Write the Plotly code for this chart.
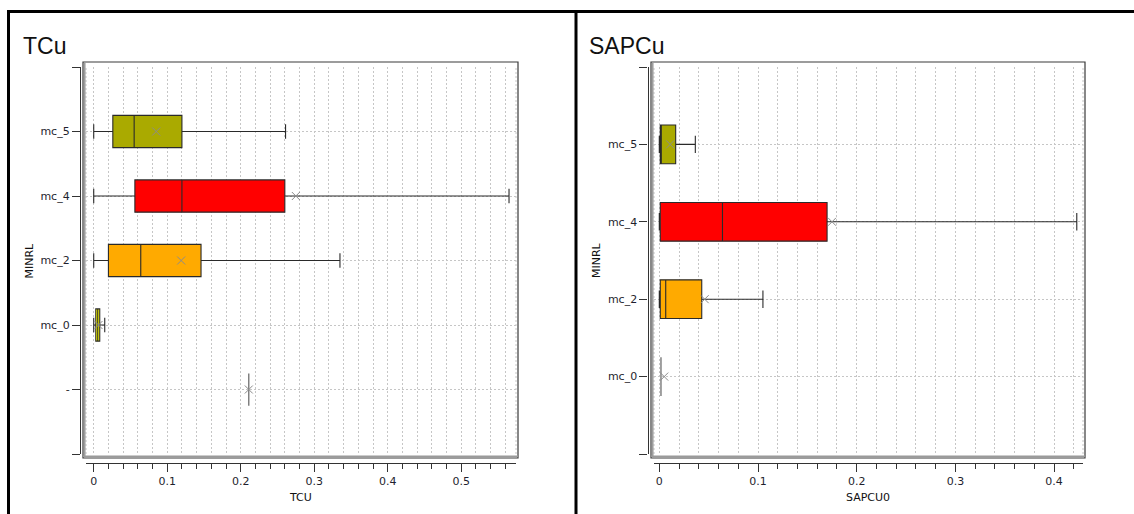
import plotly.graph_objects as go

W, H = 1134, 514

# ---- TCu panel: box statistics per mineral code ----
tcu_cats = ["-", "mc_0", "mc_2", "mc_4", "mc_5"]
tcu_lower = [0.211, 0.0, 0.0, 0.0, 0.0]
tcu_q1 = [0.211, 0.0028, 0.020, 0.056, 0.026]
tcu_median = [0.211, 0.0055, 0.064, 0.120, 0.055]
tcu_q3 = [0.211, 0.0082, 0.146, 0.260, 0.120]
tcu_upper = [0.211, 0.015, 0.335, 0.565, 0.261]
tcu_mean = [0.211, 0.0065, 0.119, 0.275, 0.085]

# ---- SAPCu panel ----
sap_cats = ["mc_0", "mc_2", "mc_4", "mc_5"]
sap_lower = [0.0017, 0.0, 0.0, 0.0]
sap_q1 = [0.0017, 0.001, 0.001, 0.001]
sap_median = [0.0017, 0.0065, 0.064, 0.0015]
sap_q3 = [0.0017, 0.043, 0.170, 0.0166]
sap_upper = [0.0017, 0.105, 0.423, 0.0365]
sap_mean = [0.005, 0.046, 0.175, 0.011]

# fill colour per mineral code
code_colors = {"-": "rgba(0,0,0,0)", "mc_0": "#FFFF00", "mc_2": "#FFAA00",
               "mc_4": "#FF0000", "mc_5": "#AAAA00"}
sap_colors = {"mc_0": "rgba(0,0,0,0)", "mc_2": "#FFAA00",
              "mc_4": "#FF0000", "mc_5": "#AAAA00"}

GRID = "#c6c6c6"
GRIDDASH = "2px,2px"
AX = "#333333"
TICKFONT = dict(family="DejaVu Sans", size=11, color="#1f1f2e")


def px(x):
    return x / W


def py(y):
    return 1 - y / H


fig = go.Figure()


def add_panel(cats, lo, q1, med, q3, hi, mean, colors, xa, ya):
    for i, c in enumerate(cats):
        empty = colors[c].startswith("rgba")
        fig.add_trace(go.Box(
            orientation="h", y=[i], q1=[q1[i]], median=[med[i]], q3=[q3[i]],
            lowerfence=[lo[i]], upperfence=[hi[i]],
            fillcolor=colors[c],
            line=dict(color="#555555" if empty else "#2a2a2a", width=1.1),
            width=0.5, whiskerwidth=0.45, boxpoints=False, name=c,
            xaxis=xa, yaxis=ya, hoverinfo="skip"))
    fig.add_trace(go.Scatter(
        x=mean, y=list(range(len(cats))), mode="markers",
        marker=dict(symbol="x-thin", size=8, line=dict(color="#8c8c8c", width=1)),
        xaxis=xa, yaxis=ya, hoverinfo="skip"))


add_panel(tcu_cats, tcu_lower, tcu_q1, tcu_median, tcu_q3, tcu_upper, tcu_mean,
          code_colors, "x", "y")
add_panel(sap_cats, sap_lower, sap_q1, sap_median, sap_q3, sap_upper, sap_mean,
          sap_colors, "x2", "y2")


def xaxis_cfg(d0, d1, rng):
    return dict(
        domain=[px(d0), px(d1)], range=rng, anchor="free", position=py(463),
        showline=True, linecolor=AX, linewidth=1.3,
        ticks="outside", ticklen=8, tickwidth=1.3, tickcolor=AX,
        tick0=0, dtick=0.1, tickfont=TICKFONT,
        showgrid=True, gridcolor=GRID, griddash=GRIDDASH, gridwidth=1,
        minor=dict(dtick=0.02, ticks="outside", ticklen=5, tickwidth=1.3,
                   tickcolor=AX, showgrid=True, gridcolor=GRID, griddash=GRIDDASH),
        zeroline=False, fixedrange=True)


def yaxis_cfg(cats, pos):
    n = len(cats)
    return dict(
        domain=[py(454), py(67)], range=[-1, n], anchor="free", position=px(pos),
        tickvals=list(range(-1, n + 1)), ticktext=[""] + cats + [""],
        showline=True, linecolor=AX, linewidth=1.3,
        ticks="outside", ticklen=8, tickwidth=1.3, tickcolor=AX,
        tickfont=TICKFONT, showgrid=True, gridcolor=GRID, griddash=GRIDDASH,
        zeroline=False, fixedrange=True)


shapes = []
annotations = []


def frame(x0, x1, y0, y1, xa, ya):
    shapes.append(dict(type="rect", xref="paper", yref="paper",
                       x0=px(x0), x1=px(x1), y0=py(y1), y1=py(y0),
                       line=dict(color="#3a3a3a", width=1.2)))
    shapes.append(dict(type="line", xref="paper", yref="paper",
                       x0=px(x0 + 1.8), x1=px(x0 + 1.8), y0=py(y1), y1=py(y0),
                       line=dict(color="#9a9a9a", width=1.5)))
    shapes.append(dict(type="line", xref="paper", yref="paper",
                       x0=px(x0), x1=px(x1), y0=py(y1 - 1.8), y1=py(y1 - 1.8),
                       line=dict(color="#9a9a9a", width=1.5)))
    for xd in (0, 1):
        shapes.append(dict(type="line", xref=f"{xa} domain", yref=f"{ya} domain",
                           x0=xd, x1=xd, y0=0, y1=1, layer="below",
                           line=dict(color=GRID, width=1, dash=GRIDDASH)))


frame(83, 518, 62, 458, "x", "y")
frame(651, 1085, 62, 458, "x2", "y2")

# outer table borders
black = dict(color="black", width=3)
shapes += [
    dict(type="line", xref="paper", yref="paper", x0=px(7), x1=1, y0=py(11.5), y1=py(11.5), line=black),
    dict(type="line", xref="paper", yref="paper", x0=px(8.5), x1=px(8.5), y0=0, y1=py(10), line=black),
    dict(type="line", xref="paper", yref="paper", x0=px(576), x1=px(576), y0=0, y1=py(10), line=black),
]


def text(x, y, s, size, family, angle=0, xanchor="center"):
    annotations.append(dict(x=px(x), y=py(y), xref="paper", yref="paper", text=s,
                            showarrow=False, textangle=angle, xanchor=xanchor,
                            yanchor="middle",
                            font=dict(size=size, family=family, color="#111111")))


text(21, 46, "TCu", 23, "Liberation Sans", xanchor="left")
text(587, 46, "SAPCu", 23, "Liberation Sans", xanchor="left")
text(29, 260.5, "MINRL", 11, "DejaVu Sans", angle=-90)
text(596.5, 260.5, "MINRL", 11, "DejaVu Sans", angle=-90)
text(300, 497, "TCU", 11, "DejaVu Sans")
text(868, 497, "SAPCU0", 11, "DejaVu Sans")

fig.update_layout(
    width=W, height=H, margin=dict(l=0, r=0, t=0, b=0),
    paper_bgcolor="white", plot_bgcolor="white", showlegend=False,
    xaxis=xaxis_cfg(86, 516, [-0.0105, 0.5745]),
    yaxis=yaxis_cfg(tcu_cats, 80),
    xaxis2=xaxis_cfg(654, 1083, [-0.00537, 0.4293]),
    yaxis2=yaxis_cfg(sap_cats, 647.5),
    shapes=shapes, annotations=annotations,
)

fig.write_html("out.html")
